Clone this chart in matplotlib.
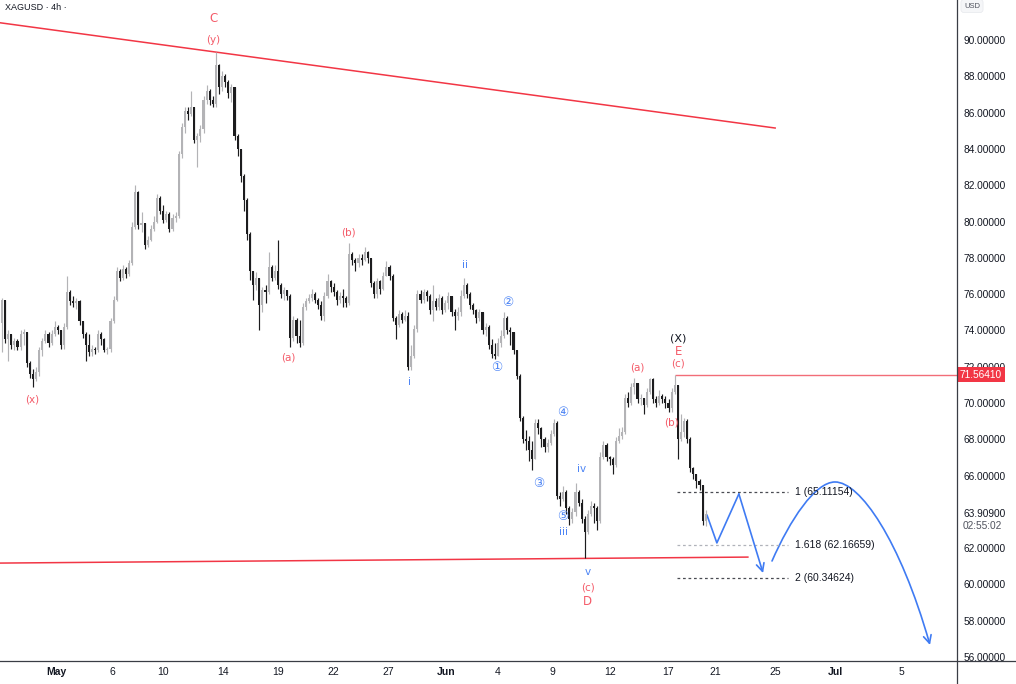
import numpy as np
import matplotlib
matplotlib.use("Agg")
import matplotlib.pyplot as plt
from matplotlib.path import Path
from matplotlib.patches import FancyArrowPatch
from matplotlib.lines import Line2D

# ---- XAGUSD 4h candles ----
first_open = 74.4
closes = [
    75.67, 73.5, 73.8, 73.2, 73.4, 73.1, 73.8, 73.9, 72.2, 71.6,
    71.3, 71.7, 72.9, 73.4, 73.8, 73.3, 73.8, 74.2, 74.0, 73.2,
    74.2, 76.1, 75.6, 75.5, 75.6, 74.5, 73.8, 73.2, 72.8, 73.0,
    72.9, 73.8, 73.5, 72.9, 73.0, 74.5, 75.7, 77.3, 76.9, 77.4,
    77.1, 77.7, 79.7, 81.6, 79.8, 79.9, 78.7, 79.0, 79.6, 80.0,
    81.3, 80.6, 80.1, 80.4, 79.6, 80.2, 80.3, 83.7, 85.2, 86.1,
    85.9, 86.3, 84.5, 84.7, 85.1, 86.7, 87.2, 86.7, 86.5, 88.6,
    87.4, 88.0, 87.7, 87.1, 87.4, 84.7, 84.0, 82.5, 81.2, 79.3,
    77.3, 76.5, 76.9, 75.4, 76.2, 76.1, 77.5, 76.9, 77.3, 76.5,
    76.0, 76.2, 75.9, 73.6, 74.6, 73.7, 73.3, 75.3, 75.6, 75.8,
    76.0, 75.7, 75.4, 74.8, 75.9, 76.7, 76.4, 76.1, 75.7, 75.9,
    75.8, 75.5, 78.2, 77.9, 77.7, 78.0, 77.9, 78.3, 78.0, 76.6,
    76.0, 76.7, 76.3, 77.0, 77.5, 77.0, 74.7, 74.3, 74.9, 74.6,
    74.8, 72.0, 72.6, 74.1, 76.0, 75.7, 76.1, 75.9, 75.1, 75.6,
    75.3, 75.8, 75.1, 75.5, 75.9, 75.0, 74.8, 75.0, 75.9, 76.5,
    76.0, 75.4, 75.1, 74.7, 75.0, 74.0, 74.2, 73.2, 72.7, 72.6,
    73.3, 73.7, 74.7, 74.0, 73.9, 72.9, 71.5, 69.2, 68.0, 67.9,
    67.4, 66.9, 68.9, 68.6, 68.0, 67.6, 67.8, 68.3, 68.9, 64.9,
    64.7, 65.1, 64.2, 63.6, 64.0, 65.1, 64.5, 63.6, 62.9, 63.9,
    64.3, 64.2, 63.5, 67.0, 67.7, 67.0, 66.9, 66.6, 67.9, 68.2,
    68.4, 70.3, 70.0, 70.9, 71.1, 70.2, 70.3, 69.9, 70.6, 71.3,
    70.2, 70.0, 70.4, 70.2, 70.0, 69.7, 70.6, 71.0, 68.0, 68.4,
    69.0, 68.0, 66.4, 66.1, 65.7, 65.5, 63.5, 63.909,
]
highs = [
    75.8, 74.4, 74.0, 73.8, 73.6, 73.5, 74.0, 74.1, 73.9, 72.3,
    71.9, 72.0, 73.1, 73.6, 74.0, 73.9, 74.0, 74.5, 74.3, 74.0,
    74.4, 77.0, 76.2, 75.9, 75.8, 75.7, 74.5, 73.9, 73.8, 73.2,
    73.1, 74.0, 73.9, 73.6, 73.1, 74.7, 75.9, 77.5, 77.4, 77.6,
    77.5, 77.9, 80.0, 82.0, 81.7, 80.5, 79.9, 79.2, 79.8, 80.3,
    81.5, 81.4, 80.9, 80.6, 80.5, 80.4, 80.5, 83.9, 85.4, 86.3,
    86.3, 87.2, 86.3, 84.9, 85.3, 86.9, 87.5, 87.3, 86.9, 89.35,
    88.7, 88.3, 88.1, 87.8, 87.6, 86.9, 84.8, 84.0, 82.6, 81.3,
    79.4, 77.3, 77.2, 76.9, 76.4, 76.5, 78.3, 77.6, 77.6, 79.0,
    76.6, 76.4, 76.2, 76.0, 74.8, 74.7, 74.6, 75.5, 75.8, 76.0,
    76.3, 76.1, 75.8, 75.6, 76.1, 77.1, 76.8, 76.6, 76.2, 76.1,
    76.3, 75.9, 78.8, 78.3, 78.0, 78.2, 78.2, 78.6, 78.4, 78.0,
    76.7, 76.9, 76.8, 77.2, 77.8, 77.6, 77.1, 74.8, 75.1, 75.0,
    75.1, 75.0, 73.2, 74.3, 76.2, 76.2, 76.3, 76.2, 76.0, 76.5,
    75.8, 76.0, 75.9, 75.7, 76.1, 75.9, 75.2, 75.3, 76.2, 76.9,
    76.6, 76.1, 75.5, 75.2, 75.2, 75.0, 74.4, 74.3, 73.5, 73.3,
    73.6, 74.0, 75.0, 74.8, 74.2, 73.9, 72.8, 71.6, 69.3, 68.5,
    68.2, 67.9, 69.1, 69.1, 68.7, 68.1, 68.0, 68.5, 69.1, 69.0,
    65.1, 65.4, 65.2, 64.3, 64.2, 65.6, 65.2, 64.7, 63.8, 64.1,
    64.6, 64.5, 64.3, 67.3, 67.9, 67.8, 67.1, 67.0, 68.1, 68.6,
    68.7, 70.5, 70.6, 71.1, 71.35, 71.1, 70.5, 70.3, 70.8, 71.4,
    71.4, 70.4, 70.7, 70.5, 70.4, 70.2, 70.8, 71.5641, 71.0, 69.4,
    69.2, 69.1, 68.1, 66.5, 66.1, 65.8, 65.2, 64.1,
]
lows = [
    72.8, 73.3, 72.3, 73.0, 72.9, 72.9, 72.9, 73.2, 72.0, 71.4,
    70.9, 71.2, 71.5, 72.6, 73.3, 73.1, 73.2, 73.7, 73.8, 73.0,
    73.0, 74.1, 75.4, 75.3, 75.2, 74.3, 73.6, 72.3, 72.6, 72.6,
    72.7, 72.8, 73.2, 72.8, 72.7, 72.8, 74.4, 75.6, 76.7, 76.8,
    76.9, 77.0, 77.6, 79.6, 79.6, 79.4, 78.5, 78.6, 78.9, 79.5,
    79.9, 80.4, 79.9, 80.0, 79.4, 79.5, 80.0, 80.2, 83.5, 84.9,
    85.6, 85.8, 84.3, 83.0, 84.4, 84.9, 86.5, 86.4, 86.3, 86.3,
    87.0, 87.2, 87.4, 86.8, 86.6, 84.5, 83.6, 82.2, 80.6, 79.0,
    76.8, 75.7, 76.2, 74.0, 75.0, 75.5, 76.0, 76.7, 76.8, 76.3,
    75.8, 75.7, 75.7, 73.1, 73.4, 73.3, 73.1, 73.2, 75.1, 75.5,
    75.6, 75.5, 75.2, 74.6, 74.5, 75.8, 76.1, 75.9, 75.4, 75.5,
    75.3, 75.3, 75.4, 77.6, 77.3, 77.5, 77.6, 77.8, 77.7, 76.4,
    75.8, 75.8, 76.0, 76.2, 77.0, 76.8, 74.5, 73.5, 74.2, 74.4,
    74.5, 71.8, 71.8, 72.5, 73.9, 75.5, 75.5, 75.6, 74.9, 74.5,
    75.1, 75.1, 74.9, 75.0, 75.2, 74.8, 74.0, 74.6, 74.8, 75.8,
    75.8, 75.2, 74.9, 74.4, 74.5, 73.8, 73.7, 73.0, 72.5, 72.45,
    72.6, 73.1, 73.6, 73.8, 73.2, 72.7, 71.3, 69.0, 67.8, 67.4,
    66.8, 66.3, 66.9, 68.3, 67.6, 67.3, 67.3, 67.7, 68.2, 64.7,
    64.3, 64.6, 63.9, 63.3, 63.4, 63.8, 64.3, 63.4, 61.46, 62.8,
    63.8, 63.4, 63.0, 63.4, 66.9, 66.8, 66.6, 66.1, 66.5, 67.8,
    68.0, 68.3, 69.8, 69.9, 70.5, 70.0, 69.9, 69.4, 69.8, 70.5,
    70.0, 69.8, 69.9, 70.0, 69.7, 69.5, 69.5, 70.5, 66.9, 67.9,
    68.1, 67.8, 66.2, 65.8, 65.3, 65.2, 63.3, 63.2,
]

price_ticks = [56, 58, 60, 62, 66, 68, 70, 72, 74, 76, 78, 80, 82, 84, 86, 88, 90]
date_pos = [17.4, 35.5, 51.9, 71.3, 89.0, 106.8, 124.5, 143.2, 160.0,
            177.7, 196.1, 214.8, 230.0, 249.4, 269.0, 290.3]
date_labels = ['May', '6', '10', '14', '19', '22', '27', 'Jun', '4', '9',
               '12', '17', '21', '25', 'Jul', '5']
month_labels = ['May', 'Jun', 'Jul']

fib_ratios = ['1', '1.618', '2']
fib_levels = [65.11154, 62.16659, 60.34624]
last_price = 63.909
countdown = '02:55:02'
e_high = 71.5641
e_index = 217

RED = '#f23645'
LRED = '#f45b69'
BLUE = '#3f7bf3'
LBLUE = '#4c84f5'
INK = '#131722'

# wave labels: text, x (bar index), price, colour, size
wave_labels = [
    ('C', 68.1, 91.2, LRED, 8.5), ('(y)', 68.1, 90.0, LRED, 7.5),
    ('(x)', 9.7, 70.17, LRED, 7.5), ('(a)', 92.3, 72.48, LRED, 7.5),
    ('(b)', 111.9, 79.42, LRED, 7.5), ('i', 131.6, 71.16, LBLUE, 7.5),
    ('ii', 149.4, 77.6, LBLUE, 7.5), ('\u2460', 159.7, 71.93, LBLUE, 9),
    ('\u2461', 163.2, 75.56, LBLUE, 9), ('\u2462', 173.2, 65.59, LBLUE, 9),
    ('\u2463', 181.0, 69.5, LBLUE, 9), ('\u2464', 181.0, 63.77, LBLUE, 9),
    ('iii', 181.0, 62.89, LBLUE, 7.5), ('iv', 187.1, 66.36, LBLUE, 7.5),
    ('v', 189.0, 60.69, LBLUE, 7.5), ('(c)', 189.0, 59.81, LRED, 7.5),
    ('D', 189.0, 59.04, LRED, 8.5), ('(a)', 204.8, 71.93, LRED, 7.5),
    ('(b)', 215.8, 68.95, LRED, 7.5), ('(c)', 218.1, 72.15, LRED, 7.5),
    ('E', 218.1, 72.81, LRED, 8.5), ('(X)', 218.1, 73.58, INK, 8),
]

plt.rcParams['font.family'] = ['Liberation Sans', 'DejaVu Sans', 'Noto Sans CJK JP']

fig = plt.figure(figsize=(10.16, 6.84), dpi=100, facecolor='white')
ax = fig.add_axes([0, 23 / 684, 957 / 1016, 661 / 684])
ax.set_facecolor('white')

c = np.array(closes)
o = np.concatenate([[first_open], c[:-1]])
h = np.maximum(np.array(highs), np.maximum(o, c))
l = np.minimum(np.array(lows), np.minimum(o, c))
x = np.arange(len(c))
up = c >= o
cols = np.where(up, '#b3b3b6', '#1c1c1e')

ax.vlines(x, l, h, colors=cols, lw=0.85, zorder=2)
ax.bar(x, np.maximum(np.abs(c - o), 0.06), bottom=np.minimum(o, c),
       width=0.68, color=cols, linewidth=0, zorder=3)

# trendlines of the triangle
ax.plot([-0.645, 249.4], [90.95, 85.15], color=RED, lw=1.1, zorder=1)
ax.plot([-0.645, 240.6], [61.18, 61.51], color=RED, lw=1.1, zorder=1)

# E high line
ax.hlines(e_high, e_index, 310, colors='#f26d78', lw=1.0, zorder=1)

# fib extension levels
fib_cols = ['#4a4c52', '#b0b3ba', '#4a4c52']
for ratio, lvl, fc in zip(fib_ratios, fib_levels, fib_cols):
    ax.hlines(lvl, 217.7, 253.5, colors=fc, lw=0.9, linestyles=(0, (2.2, 2.2)))
    ax.text(255.8, lvl, f'{ratio} ({lvl:.5f})', va='center', ha='left',
            fontsize=7.5, color=INK)

# projected path
ax.plot([227.4, 230.6, 237.7], [63.83, 62.29, 64.99], color=BLUE, lw=1.2,
        solid_capstyle='round')
ax.annotate('', xy=(245.5, 60.63), xytext=(237.7, 64.99),
            arrowprops=dict(arrowstyle='->', color=BLUE, lw=1.2,
                            shrinkA=0, shrinkB=0, mutation_scale=14))
arc = Path([(248.39, 61.295), (254.19, 63.554), (262.26, 65.648), (268.71, 65.648),
            (276.77, 65.648), (289.68, 62.452), (299.35, 56.667)],
           [Path.MOVETO, Path.CURVE4, Path.CURVE4, Path.CURVE4,
            Path.CURVE4, Path.CURVE4, Path.CURVE4])
ax.add_patch(FancyArrowPatch(path=arc, arrowstyle='->', color=BLUE, lw=1.2,
                             mutation_scale=14))

for txt, xi, yi, col, fs in wave_labels:
    ax.text(xi, yi, txt, color=col, fontsize=fs, ha='center', va='center',
            family=['DejaVu Sans', 'Noto Sans CJK JP'])

ax.set_xlim(-0.645, 308.06)
ax.set_ylim(55.785, 92.204)

ax.yaxis.tick_right()
ax.set_yticks(price_ticks)
ax.set_yticklabels([f'{t:.5f}' for t in price_ticks])
ax.tick_params(axis='y', length=0, pad=4.5, labelsize=7.3, labelcolor=INK)
ax.set_xticks(date_pos)
ax.set_xticklabels(date_labels)
ax.tick_params(axis='x', length=0, pad=4, labelsize=7.5, labelcolor=INK)
for lab in ax.get_xticklabels():
    if lab.get_text() in month_labels:
        lab.set_fontweight('bold')
for sp in ax.spines.values():
    sp.set_visible(False)

# axis frame lines that run past the plot
fig.add_artist(Line2D([957 / 1016, 957 / 1016], [0, 1], color='#3a3d45', lw=0.9,
                      transform=fig.transFigure))
fig.add_artist(Line2D([0, 1], [23 / 684, 23 / 684], color='#3a3d45', lw=0.9,
                      transform=fig.transFigure))

yt = ax.get_yaxis_transform()
ax.text(1 + 3 / 957, e_high, f'{e_high:.5f}', transform=yt, ha='left', va='center',
        fontsize=7.3, color='white', zorder=10,
        bbox=dict(boxstyle='square,pad=0.28', fc=RED, ec='none'))
ax.text(1 + 6 / 957, last_price, f'{last_price:.5f}', transform=yt, ha='left',
        va='center', fontsize=7.3, color=INK)
ax.text(1 + 6 / 957, last_price - 0.66, countdown, transform=yt, ha='left',
        va='center', fontsize=7.3, color='#50535e')

fig.text(5 / 1016, 1 - 7 / 684, 'XAGUSD \u00b7 4h \u00b7', fontsize=6.5, color=INK,
         ha='left', va='center')
fig.text(964 / 1016, 1 - 6 / 684, 'USD', fontsize=5.5, color='#50535e',
         ha='left', va='center',
         bbox=dict(boxstyle='round,pad=0.4', fc='#f5f6f8', ec='#e6e8ec', lw=0.5))

fig.savefig('out.png', dpi=100, facecolor='white')
